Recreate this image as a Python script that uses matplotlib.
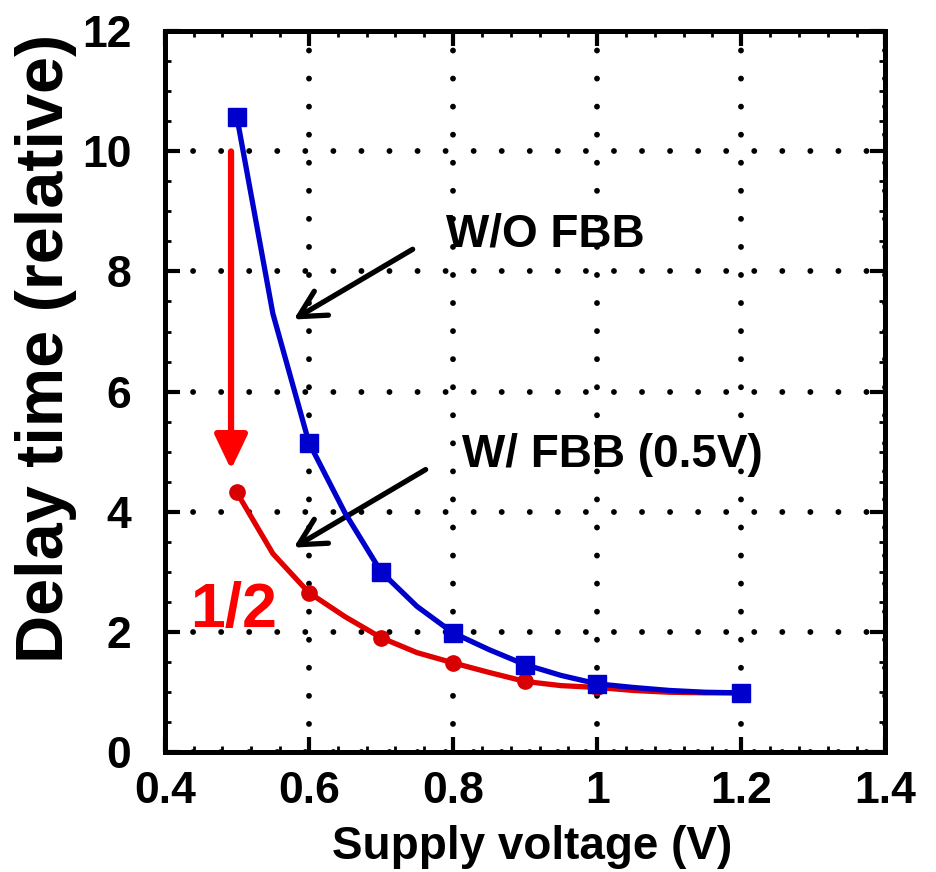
import numpy as np
import matplotlib.pyplot as plt
from matplotlib.ticker import MultipleLocator

plt.rcParams['font.family'] = ['Liberation Sans', 'DejaVu Sans']
plt.rcParams['font.weight'] = 'bold'

# supply voltage (V), read every 0.05 V; markers only every 0.1 V
vdd = [0.5, 0.55, 0.6, 0.65, 0.7, 0.75, 0.8, 0.85, 0.9, 0.95, 1.0, 1.05, 1.1, 1.15, 1.2]
delay_nofbb = [10.58, 7.3, 5.15, 3.98, 3.0, 2.42, 1.98, 1.7, 1.45, 1.27, 1.13, 1.07, 1.02, 0.99, 0.98]
delay_fbb = [4.32, 3.3, 2.65, 2.25, 1.9, 1.65, 1.48, 1.32, 1.17, 1.1, 1.07, 1.02, 0.99, 0.98, 0.98]
mark_idx = [0, 2, 4, 6, 8, 10, 14]
xticks = [0.4, 0.6, 0.8, 1.0, 1.2, 1.4]
xticklabels = ['0.4', '0.6', '0.8', '1', '1.2', '1.4']

fig = plt.figure(figsize=(9.36, 8.72), dpi=100)
ax = fig.add_axes([0.176, 0.138, 0.770, 0.826])

ax.plot(vdd, delay_fbb, color='#e00000', lw=3.8, marker='o', ms=11,
        markevery=mark_idx, mfc='#d80000', mec='#d80000', zorder=3)
ax.plot(vdd, delay_nofbb, color='#0000cc', lw=3.8, marker='s', ms=13,
        markevery=mark_idx, mfc='#0000cc', mec='#0000cc', zorder=4)

ax.set_xlim(0.4, 1.4)
ax.set_ylim(0, 12)
ax.set_xticks(xticks)
ax.set_xticklabels(xticklabels)
ax.xaxis.set_minor_locator(MultipleLocator(0.04))
ax.yaxis.set_major_locator(MultipleLocator(2))
ax.yaxis.set_minor_locator(MultipleLocator(0.5))

ax.tick_params(which='both', direction='in', top=True, right=True, width=3, color='black')
ax.tick_params(which='major', length=11, labelsize=32)
ax.tick_params(axis='x', which='major', pad=14)
ax.tick_params(axis='y', which='major', pad=24)
ax.tick_params(which='minor', length=4, width=2)
for s in ax.spines.values():
    s.set_linewidth(3.6)

ax.grid(True, which='major', color='black', lw=4.2, linestyle=(0, (0.01, 4.8)),
        dash_capstyle='round')

ax.set_xlabel('Supply voltage (V)', fontsize=33, fontweight='bold')
ax.set_ylabel('Delay time (relative)', fontsize=48, fontweight='bold')
ax.xaxis.set_label_coords(0.51, -0.102)
ax.yaxis.set_label_coords(-0.122, 0.56)

# annotations
ax.annotate('', xy=(0.492, 4.7), xytext=(0.492, 10.0),
            arrowprops=dict(arrowstyle='-|>,head_length=2.1,head_width=1.0',
                            color='#ff0000', lw=4.5, shrinkA=0, shrinkB=0))
ax.text(0.435, 2.35, '1/2', color='#ff0000', fontsize=45, fontweight='bold', va='center')

ax.annotate('', xy=(0.579, 7.2), xytext=(0.744, 8.37),
            arrowprops=dict(arrowstyle='->,head_length=1.9,head_width=1.0',
                            color='black', lw=3.8, shrinkA=0, shrinkB=0))
ax.text(0.79, 8.62, 'W/O FBB', fontsize=33, fontweight='bold', va='center')

ax.annotate('', xy=(0.579, 3.4), xytext=(0.762, 4.7),
            arrowprops=dict(arrowstyle='->,head_length=1.9,head_width=1.0',
                            color='black', lw=3.8, shrinkA=0, shrinkB=0))
ax.text(0.813, 4.95, 'W/ FBB (0.5V)', fontsize=33, fontweight='bold', va='center')

fig.savefig('out.png', dpi=100)
